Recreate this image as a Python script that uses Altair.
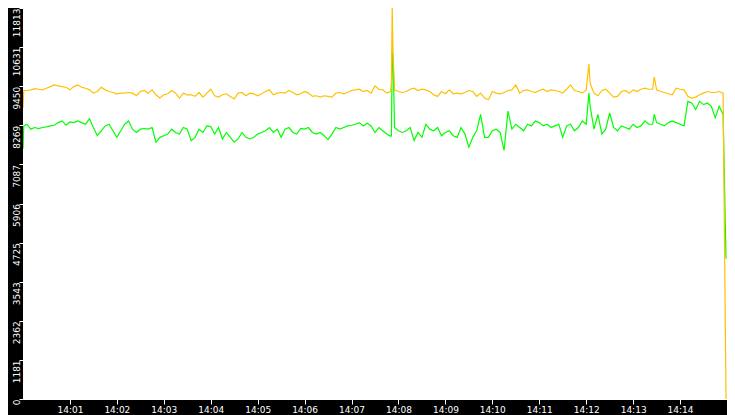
import altair as alt
import pandas as pd

# ---- data (values at 5 s steps from 14:00:00) ----
orange_vals = [
    8800, 9320, 9340, 9379, 9359, 9340, 9389, 9438, 9488, 9458, 9438, 9419, 9340, 9438, 9488, 9419,
    9389, 9340, 9241, 9290, 9419, 9340, 9290, 9260, 9221, 9241, 9241, 9260, 9241, 9161, 9290, 9320,
    9241, 9340, 9191, 9092, 9191, 9221, 9320, 9241, 9092, 9241, 9191, 9191, 9142, 9260, 9122, 9241,
    9359, 9161, 9122, 9191, 9221, 9142, 9063, 9241, 9260, 9161, 9241, 9221, 9161, 9221,
    9290, 9340, 9191, 9241, 9260, 9241, 9320, 9260, 9191, 9221, 9290, 9241, 9142, 9161, 9122, 9161,
    9142, 9122, 9241, 9260, 9221, 9260, 9320, 9340, 9359, 9290, 9320, 9241, 9458, 9359,
    9340, 9241, 9290, 9340, 9290, 9260, 9290, 9359, 9389, 9320, 9359, 9340, 9290, 9191, 9142, 9290,
    9221, 9340, 9221, 9241, 9221, 9260, 9320, 9290, 9142, 9241, 9092, 9043, 9290, 9241,
    9221, 9260, 9320, 9340, 9488, 9241, 9320, 9340, 9290, 9260, 9320, 9359, 9290, 9340, 9320, 9290,
    9241, 9359, 9488, 9320, 9290, 9241, 9340, 9537, 9241, 9161, 9320, 9359, 9241, 9122,
    9142, 9290, 9320, 9241, 9340, 9290, 9359, 9389, 9359, 9359, 9340, 9290, 9260, 9221, 9191, 9389,
    9359, 9340, 9142, 9092, 9122, 9191, 9241, 9290, 9260, 9260, 9290, 9241,
]
green_vals = [
    7559, 8301, 8152, 8202, 8172, 8202, 8222, 8251, 8271, 8350, 8400, 8271, 8370, 8350, 8400, 8350,
    8301, 8469, 8202, 7955, 8103, 8251, 8301, 8103, 7905, 8103, 8301, 8400, 8152, 8053, 8152, 8172,
    8152, 8202, 7757, 7905, 7955, 8004, 8152, 8053, 8004, 8202, 8152, 7806, 7905, 8152, 8053, 8251,
    8231, 8004, 8202, 7856, 8053, 7905, 7757, 7856, 8053, 7905, 7856, 7905, 8004, 8053,
    8103, 8202, 8053, 8152, 7905, 8152, 8202, 8053, 8004, 8172, 8152, 8202, 8053, 8004, 8053, 7955,
    7836, 8004, 8202, 8152, 8202, 8251, 8271, 8301, 8350, 8251, 8330, 8251, 8053, 8202,
    8103, 8004, 7935, 8202, 8103, 8053, 8103, 8202, 7806, 8053, 7905, 8301, 8152, 8103, 8202, 7955,
    8053, 8103, 7955, 7905, 8202, 8004, 7608, 7905, 8103, 8598, 7905, 7905, 8103, 8152,
    8053, 7509, 8696, 8152, 8301, 8202, 8103, 8301, 8251, 8400, 8350, 8251, 8301, 8202, 8251, 8301,
    7905, 8251, 8301, 8103, 8202, 8400, 8301, 8845, 8152, 8598, 8004, 8152, 8647, 8202,
    8103, 8251, 8202, 8152, 8301, 8202, 8251, 8400, 8301, 8301, 8350, 8301, 8251, 8350, 8400, 8350,
    8301, 8251, 8993, 8944, 8746, 8993, 8894, 8944, 8845, 8499, 8845, 8598,
]
step_seconds = 5

# extra readings between the regular samples (spikes, start and final drop)
extra_sec = [1, 471, 472, 473, 723.5, 807, 898.75]
extra_orange = [9320, 9587, 11813, 10507, 10121, 9735, 0]
extra_green = [8250, 7950, 10500, 10400, 9241, 8598, 4245]

y_ticks = [0, 1181, 2362, 3543, 4725, 5906, 7087, 8269, 9450, 10631, 11813]
x_tick_minutes = list(range(1, 15))

base = pd.Timestamp("2024-01-01 14:00:00")


def build(vals, ex_vals):
    secs = [i * step_seconds for i in range(len(vals))] + extra_sec
    v = list(vals) + list(ex_vals)
    df = pd.DataFrame({"sec": secs, "value": v}).sort_values("sec")
    df["time"] = base + pd.to_timedelta(df["sec"], unit="s")
    return df[["time", "value"]]


df_orange = build(orange_vals, extra_orange)
df_green = build(green_vals, extra_green)

FONT = "DejaVu Sans"

x_enc = alt.X(
    "time:T",
    scale=alt.Scale(
        domain=[
            alt.DateTime(year=2024, month=1, date=1, hours=14, minutes=0),
            alt.DateTime(year=2024, month=1, date=1, hours=14, minutes=15),
        ]
    ),
    axis=alt.Axis(
        values=[alt.DateTime(year=2024, month=1, date=1, hours=14, minutes=m) for m in x_tick_minutes],
        format="%H:%M",
        title=None,
        grid=False,
        domain=False,
        tickColor="white",
        tickSize=5,
        labelColor="white",
        labelFont=FONT,
        labelFontSize=9,
        labelPadding=1,
        labelOverlap=False,
    ),
)
y_enc = alt.Y(
    "value:Q",
    scale=alt.Scale(domain=[0, 11813], nice=False),
    axis=alt.Axis(
        values=y_ticks,
        format="d",
        title=None,
        grid=False,
        domain=False,
        tickColor="white",
        tickSize=4,
        labelColor="white",
        labelFont=FONT,
        labelFontSize=9,
        labelAngle=270,
        labelAlign="right",
        labelBaseline="alphabetic",
        labelPadding=0,
        labelOverlap=False,
        labelFlush=False,
    ),
)

green = alt.Chart(df_green).mark_line(color="#00ff00", strokeWidth=1.2, clip=True).encode(x=x_enc, y=y_enc)
orange = alt.Chart(df_orange).mark_line(color="#ffc000", strokeWidth=1.2, clip=True).encode(x=x_enc, y=y_enc)

chart = (
    alt.layer(green, orange)
    .properties(
        width=704,
        height=391,
        background="black",
        padding={"left": 15, "top": 0, "right": 0, "bottom": 16},
        autosize=alt.AutoSizeParams(type="none"),
    )
    .configure_view(fill="white", stroke="white", strokeWidth=1)
)

chart.save("out.html", embed_options={"renderer": "svg", "actions": False})
